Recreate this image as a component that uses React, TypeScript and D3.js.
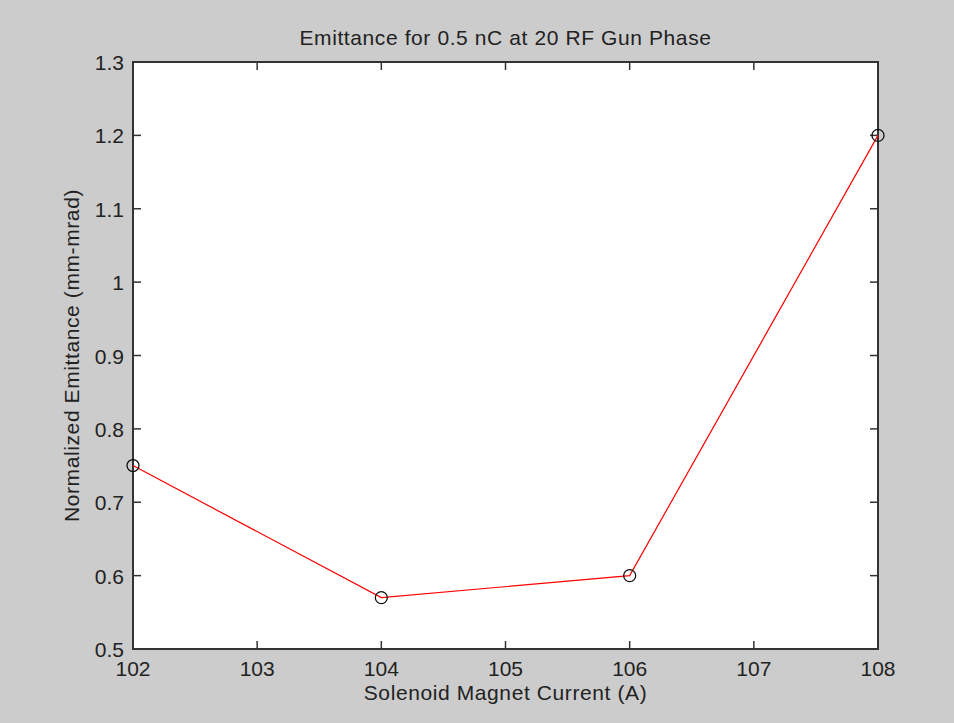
import React from "react";
import * as d3 from "d3";

const current = [102, 104, 106, 108];
const emittance = [0.75, 0.57, 0.6, 1.2];
const xTicks = [102, 103, 104, 105, 106, 107, 108];
const yTicks = [0.5, 0.6, 0.7, 0.8, 0.9, 1, 1.1, 1.2, 1.3];
const title = "Emittance for 0.5 nC at 20 RF Gun Phase";
const xLabel = "Solenoid Magnet Current (A)";
const yLabel = "Normalized Emittance (mm-mrad)";

const W = 954, H = 723;
const L = 133, R = 878, T = 62, B = 649;
const font = "'Liberation Sans', Arial, sans-serif";

export default function App() {
  const x = d3.scaleLinear().domain([102, 108]).range([L, R]);
  const y = d3.scaleLinear().domain([0.5, 1.3]).range([B, T]);
  const pts = current.map((c, i) => [c, emittance[i]] as [number, number]);
  const line = d3.line<[number, number]>().x(d => x(d[0])).y(d => y(d[1]));
  const tl = 8;
  const axisColor = "#333";
  const fs = 21;
  return (
    <svg width={W} height={H} style={{ position: "absolute", left: 0, top: 0 }} fontFamily={font}>
      <rect width={W} height={H} fill="#cccccc" />
      <rect x={L} y={T} width={R - L} height={B - T} fill="#fff" />
      {xTicks.map(t => (
        <g key={"x" + t}>
          <line x1={x(t)} x2={x(t)} y1={B} y2={B - tl} stroke={axisColor} strokeWidth={1.5} />
          <line x1={x(t)} x2={x(t)} y1={T} y2={T + tl} stroke={axisColor} strokeWidth={1.5} />
          <text x={x(t)} y={B + 27} textAnchor="middle" fontSize={fs} fill="#222">{t}</text>
        </g>
      ))}
      {yTicks.map(t => (
        <g key={"y" + t}>
          <line x1={L} x2={L + tl} y1={y(t)} y2={y(t)} stroke={axisColor} strokeWidth={1.5} />
          <line x1={R} x2={R - tl} y1={y(t)} y2={y(t)} stroke={axisColor} strokeWidth={1.5} />
          <text x={L - 9} y={y(t) + 8} textAnchor="end" fontSize={fs} fill="#222">{String(t)}</text>
        </g>
      ))}
      <rect x={L} y={T} width={R - L} height={B - T} fill="none" stroke={axisColor} strokeWidth={2} />
      <path d={line(pts) || ""} fill="none" stroke="#ff0000" strokeWidth={1.2} />
      {pts.map((p, i) => (
        <circle key={i} cx={x(p[0])} cy={y(p[1])} r={6} fill="none" stroke="#111" strokeWidth={1.3} />
      ))}
      <text x={(L + R) / 2} y={45} textAnchor="middle" fontSize={fs} letterSpacing={0.6} fill="#222">{title}</text>
      <text x={(L + R) / 2} y={700} textAnchor="middle" fontSize={fs} letterSpacing={0.6} fill="#222">{xLabel}</text>
      <text transform={`translate(79,${(T + B) / 2}) rotate(-90)`} textAnchor="middle" fontSize={fs} letterSpacing={0.6} fill="#222">{yLabel}</text>
    </svg>
  );
}
